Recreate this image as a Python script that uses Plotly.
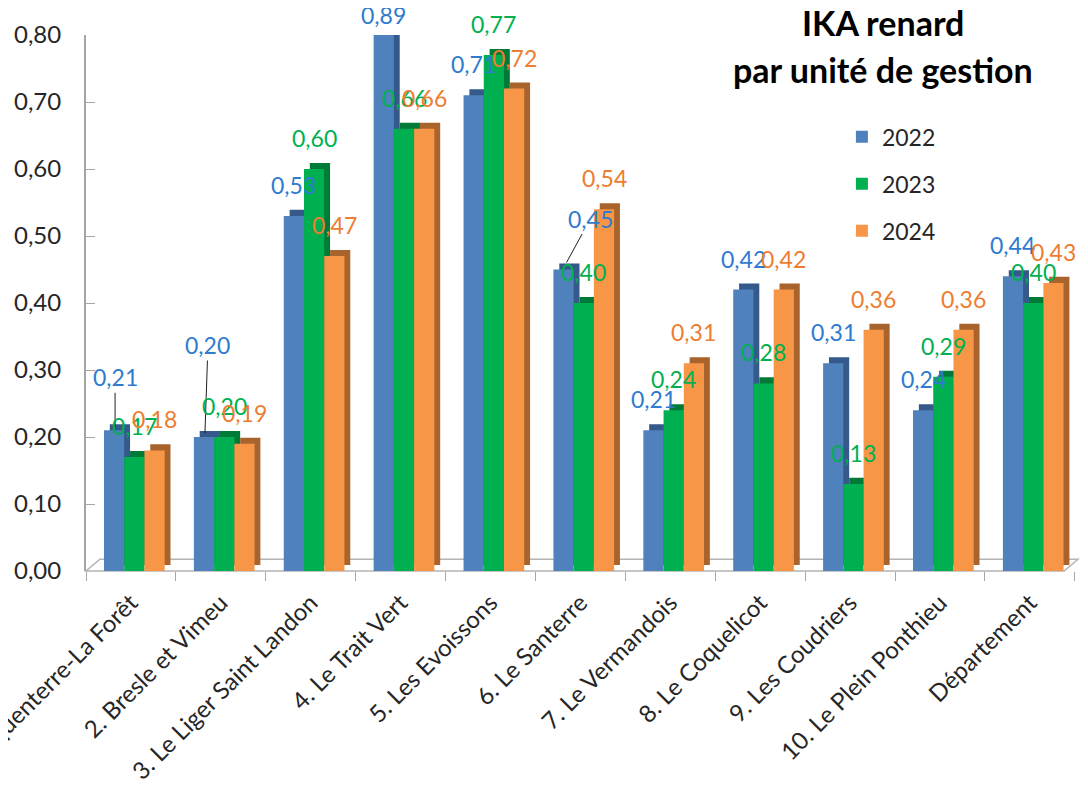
import plotly.graph_objects as go

categories = [
    "1. Marquenterre-La Forêt",
    "2. Bresle et Vimeu",
    "3. Le Liger Saint Landon",
    "4. Le Trait Vert",
    "5. Les Evoissons",
    "6. Le Santerre",
    "7. Le Vermandois",
    "8. Le Coquelicot",
    "9. Les Coudriers",
    "10. Le Plein Ponthieu",
    "Département",
]
ika_2022 = [0.21, 0.20, 0.53, 0.89, 0.71, 0.45, 0.21, 0.42, 0.31, 0.24, 0.44]
ika_2023 = [0.17, 0.20, 0.60, 0.66, 0.77, 0.40, 0.24, 0.28, 0.13, 0.29, 0.40]
ika_2024 = [0.18, 0.19, 0.47, 0.66, 0.72, 0.54, 0.31, 0.42, 0.36, 0.36, 0.43]
years = ["2022", "2023", "2024"]

FONT = "Lato, 'Open Sans', sans-serif"
Y_MAX = 0.80
BAR_W = 0.225
DEPTH_X = 0.065   # side face width, category units
DEPTH_Y = 0.009   # top face height, value units
CAT_PX = 90       # pixel width of one category

series = [
    # name, values, front colour, side colour, label colour, offset
    (years[0], ika_2022, "#4F81BD", "#34598A", "#2E7BCF", -0.30),
    (years[1], ika_2023, "#00B050", "#007A37", "#00B050", -0.075),
    (years[2], ika_2024, "#F79646", "#A8642C", "#ED7D31", 0.15),
]

# labels that Excel moved away from the bar, with a leader line:
# (series index, category index) -> (xshift, yshift, ax, ay)
moved_labels = {
    (0, 0): (1, 3, 0, -50),
    (0, 1): (1, 4, 3, -88),
    (0, 5): (3, 7, 24, -44),
}

fig = go.Figure()
annotations = []

for s, (name, vals, col, side, lab_col, off) in enumerate(series):
    # darker copy shifted right/up gives the 3D side and top faces
    fig.add_trace(go.Bar(
        x=categories, y=vals, base=DEPTH_Y, width=BAR_W, offset=off + DEPTH_X,
        marker=dict(color=side, line=dict(width=0)),
        showlegend=False, legendgroup=name, hoverinfo="skip",
    ))
    fig.add_trace(go.Bar(
        x=categories, y=vals, name=name, width=BAR_W, offset=off,
        marker=dict(color=col, line=dict(width=0)),
        legendgroup=name,
    ))
    centre_px = (off + BAR_W / 2) * CAT_PX
    for i, v in enumerate(vals):
        txt = f"{v:.2f}".replace(".", ",")
        y = min(v, Y_MAX)
        if (s, i) in moved_labels:
            dx, dy, ax, ay = moved_labels[(s, i)]
            annotations.append(dict(
                x=categories[i], y=y, xshift=centre_px + dx, yshift=dy,
                text=txt, showarrow=True, ax=ax, ay=ay, arrowhead=0,
                arrowwidth=1, arrowcolor="#202020", standoff=0,
                font=dict(family=FONT, size=23, color=lab_col),
            ))
        else:
            annotations.append(dict(
                x=categories[i], y=y, xshift=centre_px,
                yshift=20 if v > Y_MAX else 31,
                text=txt, showarrow=False, yanchor="middle",
                font=dict(family=FONT, size=23, color=lab_col),
            ))

annotations += [
    dict(x=0.803, y=1.024, xref="paper", yref="paper", text="<b>IKA renard</b>",
         xanchor="center", yanchor="middle", showarrow=False,
         font=dict(family=FONT, size=34, color="#000000")),
    dict(x=0.803, y=0.935, xref="paper", yref="paper", text="<b>par unité de gestion</b>",
         xanchor="center", yanchor="middle", showarrow=False,
         font=dict(family=FONT, size=34, color="#000000")),
]

# the page body has an 8px margin, so the figure is drawn 8px smaller
fig.update_layout(
    width=1080, height=797,
    margin=dict(l=78, r=10, t=27, b=234, autoexpand=False),
    barmode="overlay",
    plot_bgcolor="white", paper_bgcolor="white",
    font=dict(family=FONT, size=23, color="#262626"),
    showlegend=True,
    legend=dict(x=0.762, y=0.85, xanchor="left", yanchor="top",
                bgcolor="rgba(0,0,0,0)", tracegroupgap=14,
                font=dict(family=FONT, size=23, color="#262626")),
    annotations=annotations,
    shapes=[
        # thin 3D floor
        dict(type="path", xref="paper", yref="paper",
             path="M 0,0 L 0.986,0 L 1.0,0.022 L 0.014,0.022 Z",
             line=dict(color="#B4B4B4", width=1.5), fillcolor="rgba(0,0,0,0)",
             layer="below"),
    ],
    separators=", ",
)
fig.update_xaxes(
    type="category", tickangle=-45, tickson="boundaries",
    ticks="outside", ticklen=9, tickcolor="#A6A6A6",
    showline=False, showgrid=False, ticklabelstandoff=12,
    tickfont=dict(family=FONT, size=24, color="#262626"),
    automargin=False,
)
fig.update_yaxes(
    range=[0, Y_MAX], dtick=0.1, tickformat=".2f",
    ticks="inside", ticklen=9, tickcolor="#A6A6A6",
    showline=True, linecolor="#A6A6A6", linewidth=2,
    showgrid=False, zeroline=False, ticklabelstandoff=18,
    tickfont=dict(family=FONT, size=24, color="#262626"),
    automargin=False,
)

fig.write_html("out.html")
